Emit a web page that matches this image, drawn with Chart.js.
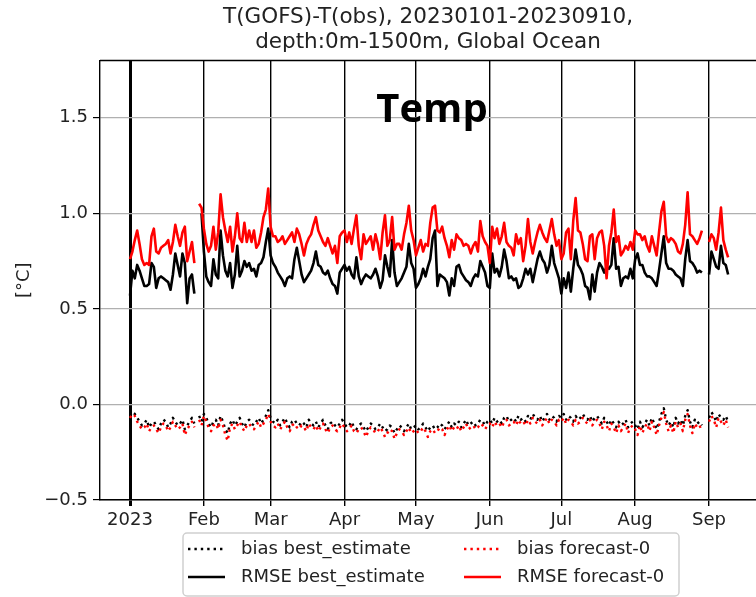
<!DOCTYPE html>
<html>
<head>
<meta charset="utf-8">
<script src="https://cdn.jsdelivr.net/npm/chart.js@4.4.1/dist/chart.umd.min.js"></script>
<style>
    body { margin: 0; background: #fff; }
    canvas { display: block; }
</style>
</head>
<body>
<canvas id="myChart" width="756" height="597"></canvas>
<script>
// daily values, day 0 = 2023-01-01 ... day 251 = 2023-09-09, null = no data
// one line per month
const rmseForecast = [
    0.76,0.80,0.86,0.91,0.84,0.76,0.73,0.74,0.73,0.88,0.92,0.80,0.79,0.82,0.83,0.84,0.86,0.79,0.85,0.94,0.88,0.83,0.90,0.93,0.75,0.80,0.85,0.74,null,1.05,1.03,
    0.92,0.84,0.80,0.83,0.93,0.81,0.90,1.10,0.98,0.91,0.85,0.93,0.80,0.88,1.00,0.87,0.85,0.95,0.85,0.91,0.85,0.91,0.82,0.84,0.90,0.98,1.02,1.13,
    0.93,0.88,0.88,0.85,0.86,0.88,0.84,0.86,0.88,0.90,0.85,0.92,0.89,0.84,0.78,0.84,0.87,0.89,0.94,0.98,0.91,0.88,0.85,0.83,0.87,0.83,0.79,0.83,0.74,0.88,0.90,
    0.91,0.85,0.90,0.84,0.92,0.99,0.83,0.76,0.89,0.84,0.86,0.88,0.81,0.89,0.84,0.76,0.90,0.99,0.83,0.86,0.98,0.81,0.84,0.84,0.81,0.89,0.95,1.04,0.91,0.86,
    0.78,0.82,0.86,0.80,0.84,0.83,0.95,1.03,1.04,0.91,0.90,0.93,0.87,0.83,0.77,0.86,0.81,0.89,0.87,0.86,0.83,0.84,0.83,0.79,0.83,0.85,0.80,0.96,0.88,0.85,0.83,
    0.74,0.93,0.87,0.92,0.84,0.88,0.95,0.85,0.83,0.82,0.78,0.89,0.84,0.87,0.75,0.83,0.97,0.85,0.79,0.85,0.90,0.94,0.90,0.87,0.85,0.91,0.97,0.89,0.83,0.86,
    0.76,0.79,0.90,0.92,0.76,0.96,1.08,0.91,0.90,0.84,0.76,0.75,0.88,0.89,0.76,0.87,0.90,0.91,0.83,0.66,0.83,0.90,1.02,0.85,0.88,0.78,0.80,0.83,0.81,0.85,0.81,
    0.91,0.89,0.89,0.86,0.88,0.83,0.80,0.88,0.83,0.78,0.90,1.01,1.06,0.88,0.85,0.87,0.86,0.84,0.80,0.79,0.84,0.94,1.11,0.89,0.88,0.86,0.84,0.87,0.91,null,null,
    0.85,0.89,0.87,0.81,0.90,1.03,0.86,0.81,0.77
];

const rmseBest = [
    0.57,0.70,0.66,0.73,0.70,0.66,0.62,0.62,0.63,0.74,0.72,0.61,0.66,0.67,0.66,0.65,0.64,0.60,0.68,0.79,0.73,0.67,0.79,0.74,0.53,0.66,0.68,0.58,null,null,1.00,
    0.80,0.67,0.64,0.62,0.76,0.68,0.66,0.91,0.78,0.70,0.67,0.74,0.61,0.68,0.83,0.67,0.70,0.75,0.72,0.74,0.70,0.71,0.67,0.73,0.74,0.77,0.85,0.92,
    0.78,0.74,0.72,0.69,0.67,0.65,0.62,0.66,0.67,0.66,0.76,0.82,0.75,0.68,0.64,0.66,0.68,0.70,0.74,0.80,0.73,0.72,0.69,0.68,0.70,0.66,0.63,0.62,0.58,0.69,0.71,
    0.73,0.70,0.72,0.68,0.66,0.77,0.67,0.63,0.66,0.68,0.67,0.66,0.68,0.71,0.67,0.61,0.65,0.78,0.72,0.67,0.86,0.69,0.62,0.64,0.66,0.69,0.72,0.84,0.74,0.71,
    0.61,0.63,0.66,0.71,0.67,0.72,0.76,0.87,0.91,0.62,0.68,0.67,0.66,0.64,0.57,0.66,0.62,0.72,0.73,0.69,0.67,0.65,0.64,0.62,0.66,0.68,0.67,0.75,0.72,0.69,0.62,
    0.61,0.79,0.69,0.71,0.67,0.72,0.81,0.75,0.66,0.67,0.65,0.66,0.61,0.62,0.66,0.71,0.68,0.71,0.64,0.70,0.76,0.80,0.76,0.74,0.69,0.73,0.83,0.74,0.70,0.66,
    0.58,0.66,0.61,0.69,0.59,0.71,0.81,0.73,0.71,0.68,0.62,0.61,0.55,0.68,0.59,0.69,0.74,0.72,0.69,0.72,0.71,0.73,0.87,0.71,0.72,0.62,0.66,0.67,0.66,0.71,0.66,
    0.76,0.79,0.73,0.73,0.69,0.67,0.67,0.66,0.64,0.62,0.70,0.79,0.88,0.74,0.71,0.71,0.70,0.68,0.67,0.66,0.62,0.76,0.86,0.75,0.74,0.72,0.69,0.70,0.69,null,null,
    0.68,0.80,0.76,0.72,0.71,0.83,0.74,0.73,0.68
];

const biasBest = [
    -0.06,-0.04,-0.05,-0.07,-0.09,-0.11,-0.10,-0.08,-0.12,-0.10,-0.09,-0.11,-0.13,-0.10,-0.08,-0.09,-0.12,-0.10,-0.07,-0.09,-0.11,-0.10,-0.08,-0.13,-0.11,-0.09,-0.07,-0.10,null,-0.06,-0.09,
    -0.05,-0.07,-0.10,-0.12,-0.09,-0.08,-0.11,-0.06,-0.09,-0.13,-0.15,-0.10,-0.08,-0.11,-0.09,-0.07,-0.10,-0.12,-0.09,-0.08,-0.10,-0.11,-0.09,-0.07,-0.10,-0.08,-0.06,-0.03,
    -0.07,-0.09,-0.10,-0.08,-0.11,-0.09,-0.07,-0.10,-0.12,-0.09,-0.08,-0.10,-0.11,-0.09,-0.10,-0.12,-0.08,-0.10,-0.11,-0.09,-0.12,-0.10,-0.08,-0.11,-0.13,-0.10,-0.09,-0.11,-0.12,-0.10,-0.08,
    -0.10,-0.12,-0.11,-0.09,-0.12,-0.13,-0.11,-0.10,-0.12,-0.14,-0.12,-0.10,-0.11,-0.13,-0.12,-0.10,-0.12,-0.14,-0.13,-0.11,-0.12,-0.15,-0.13,-0.11,-0.12,-0.14,-0.12,-0.10,-0.13,-0.12,
    -0.11,-0.13,-0.12,-0.10,-0.12,-0.14,-0.12,-0.11,-0.13,-0.12,-0.10,-0.11,-0.13,-0.11,-0.09,-0.12,-0.10,-0.11,-0.09,-0.12,-0.10,-0.08,-0.11,-0.10,-0.09,-0.11,-0.10,-0.08,-0.09,-0.11,-0.09,
    -0.08,-0.10,-0.07,-0.09,-0.08,-0.10,-0.07,-0.06,-0.09,-0.08,-0.07,-0.09,-0.06,-0.08,-0.07,-0.09,-0.06,-0.08,-0.05,-0.07,-0.08,-0.06,-0.09,-0.07,-0.05,-0.08,-0.06,-0.07,-0.09,-0.06,
    -0.07,-0.05,-0.08,-0.06,-0.07,-0.09,-0.06,-0.08,-0.07,-0.05,-0.07,-0.08,-0.06,-0.09,-0.07,-0.06,-0.08,-0.10,-0.07,-0.09,-0.11,-0.08,-0.10,-0.12,-0.09,-0.11,-0.10,-0.08,-0.12,-0.10,-0.09,
    -0.11,-0.13,-0.09,-0.12,-0.10,-0.08,-0.11,-0.07,-0.10,-0.13,-0.09,-0.05,-0.02,-0.08,-0.11,-0.09,-0.12,-0.07,-0.10,-0.08,-0.11,-0.06,-0.03,-0.09,-0.12,-0.08,-0.10,-0.09,-0.11,null,null,
    -0.07,-0.04,-0.06,-0.09,-0.05,-0.07,-0.08,-0.06,-0.09
];

const biasForecast = [
    -0.07,-0.05,-0.06,-0.09,-0.11,-0.13,-0.12,-0.10,-0.14,-0.12,-0.11,-0.13,-0.15,-0.12,-0.10,-0.11,-0.14,-0.12,-0.09,-0.11,-0.13,-0.12,-0.10,-0.16,-0.13,-0.11,-0.09,-0.12,null,-0.08,-0.11,
    -0.06,-0.09,-0.12,-0.14,-0.11,-0.10,-0.13,-0.08,-0.11,-0.16,-0.19,-0.12,-0.10,-0.13,-0.11,-0.09,-0.12,-0.14,-0.11,-0.10,-0.12,-0.13,-0.11,-0.09,-0.12,-0.10,-0.08,-0.05,
    -0.09,-0.11,-0.12,-0.10,-0.13,-0.11,-0.09,-0.12,-0.14,-0.11,-0.10,-0.12,-0.13,-0.11,-0.12,-0.14,-0.10,-0.12,-0.13,-0.11,-0.14,-0.12,-0.10,-0.13,-0.15,-0.12,-0.11,-0.13,-0.14,-0.12,-0.10,
    -0.12,-0.14,-0.13,-0.11,-0.14,-0.15,-0.13,-0.12,-0.14,-0.17,-0.14,-0.12,-0.13,-0.15,-0.14,-0.12,-0.14,-0.17,-0.15,-0.13,-0.14,-0.18,-0.15,-0.13,-0.14,-0.16,-0.14,-0.12,-0.15,-0.14,
    -0.13,-0.15,-0.14,-0.12,-0.14,-0.17,-0.14,-0.13,-0.15,-0.14,-0.12,-0.13,-0.16,-0.13,-0.11,-0.14,-0.12,-0.13,-0.11,-0.14,-0.12,-0.10,-0.13,-0.12,-0.11,-0.13,-0.12,-0.10,-0.11,-0.13,-0.11,
    -0.10,-0.12,-0.09,-0.11,-0.10,-0.12,-0.09,-0.08,-0.11,-0.10,-0.09,-0.11,-0.08,-0.10,-0.09,-0.11,-0.08,-0.10,-0.07,-0.09,-0.10,-0.08,-0.11,-0.09,-0.07,-0.10,-0.08,-0.09,-0.11,-0.08,
    -0.09,-0.07,-0.10,-0.08,-0.09,-0.11,-0.08,-0.10,-0.09,-0.07,-0.09,-0.10,-0.08,-0.11,-0.09,-0.08,-0.10,-0.13,-0.09,-0.11,-0.14,-0.10,-0.12,-0.15,-0.11,-0.14,-0.12,-0.10,-0.15,-0.12,-0.11,
    -0.13,-0.16,-0.11,-0.15,-0.12,-0.10,-0.14,-0.09,-0.12,-0.16,-0.11,-0.07,-0.04,-0.10,-0.14,-0.11,-0.15,-0.09,-0.12,-0.10,-0.14,-0.08,-0.05,-0.11,-0.15,-0.10,-0.12,-0.11,-0.14,null,null,
    -0.09,-0.06,-0.08,-0.12,-0.07,-0.09,-0.11,-0.08,-0.12
];

// x ticks on the first day of each month (day index)
const monthTicks = [0, 31, 59, 90, 120, 151, 181, 212, 243];
const monthLabels = ["2023", "Feb", "Mar", "Apr", "May", "Jun", "Jul", "Aug", "Sep"];
const yTicks = [-0.5, 0.0, 0.5, 1.0, 1.5];

const titleLines = ["T(GOFS)-T(obs), 20230101-20230910,", "depth:0m-1500m, Global Ocean"];

const textColor = "#222222";
const gridColor = "#b0b0b0";

function toPoints(values) {
    return values.map(function(v, i) { return {x: i, y: v}; });
}

// extra drawing: top spine, the "Temp" label and the 2 column legend
const decorPlugin = {
    id: "decor",
    afterDraw: function(chart) {
        const ctx = chart.ctx;
        const area = chart.chartArea;
        ctx.save();

        // top spine
        ctx.strokeStyle = "#000";
        ctx.lineWidth = 1.4;
        ctx.beginPath();
        ctx.moveTo(area.left, area.top);
        ctx.lineTo(area.right, area.top);
        ctx.stroke();

        // Temp
        ctx.fillStyle = "#000";
        ctx.font = "bold 40px 'Open Sans'";
        ctx.textAlign = "center";
        ctx.textBaseline = "alphabetic";
        ctx.fillText("Temp", 432, 122);

        // legend box
        ctx.fillStyle = "rgba(255,255,255,0.8)";
        ctx.strokeStyle = "#cfcfcf";
        ctx.lineWidth = 1.5;
        ctx.beginPath();
        ctx.roundRect(183, 533, 496, 63, 4);
        ctx.fill();
        ctx.stroke();

        const cols = [188, 464];
        const rows = [549, 577];
        ctx.font = "18px 'DejaVu Sans'";
        ctx.textAlign = "left";
        ctx.textBaseline = "middle";

        chart.data.datasets.forEach(function(ds, i) {
            const x = cols[Math.floor(i / 2)];
            const y = rows[i % 2];
            ctx.strokeStyle = ds.borderColor;
            ctx.lineWidth = ds.borderWidth;
            ctx.setLineDash(ds.borderDash || []);
            ctx.beginPath();
            ctx.moveTo(x, y);
            ctx.lineTo(x + 37, y);
            ctx.stroke();
            ctx.setLineDash([]);
            ctx.fillStyle = textColor;
            ctx.fillText(ds.label, x + 53, y);
        });

        ctx.restore();
    }
};

Chart.defaults.font.family = "'DejaVu Sans'";
Chart.defaults.color = textColor;

const ctx = document.getElementById("myChart");
const myChart = new Chart(ctx, {
    type: "line",
    data: {
        datasets: [
            {
                label: "bias best_estimate",
                data: toPoints(biasBest),
                borderColor: "#000000",
                borderWidth: 2.4,
                borderDash: [2.4, 4],
                order: 3
            },
            {
                label: "RMSE best_estimate",
                data: toPoints(rmseBest),
                borderColor: "#000000",
                borderWidth: 2.6,
                order: 2
            },
            {
                label: "bias forecast-0",
                data: toPoints(biasForecast),
                borderColor: "#ff0000",
                borderWidth: 2.4,
                borderDash: [2.4, 4],
                order: 1
            },
            {
                label: "RMSE forecast-0",
                data: toPoints(rmseForecast),
                borderColor: "#ff0000",
                borderWidth: 2.6,
                order: 0
            }
        ]
    },
    options: {
        responsive: false,
        animation: false,
        spanGaps: false,
        layout: { padding: 0 },
        elements: {
            point: { radius: 0 },
            line: { tension: 0, borderJoinStyle: "round", fill: false }
        },
        scales: {
            x: {
                type: "linear",
                min: -12.6,
                max: 262.7,
                afterBuildTicks: function(scale) {
                    scale.ticks = monthTicks.map(function(v) { return {value: v}; });
                },
                afterFit: function(scale) { scale.height = 97; },
                ticks: {
                    autoSkip: false,
                    maxRotation: 0,
                    padding: 4,
                    color: textColor,
                    font: { size: 18 },
                    callback: function(value) {
                        return monthLabels[monthTicks.indexOf(value)];
                    }
                },
                grid: {
                    color: "#000000",
                    lineWidth: function(c) { return c.index === 0 ? 3 : 1.4; },
                    tickLength: 6,
                    tickColor: "#000000"
                },
                border: { display: true, color: "#000000", width: 1.4 }
            },
            y: {
                min: -0.5,
                max: 1.8,
                afterBuildTicks: function(scale) {
                    scale.ticks = yTicks.map(function(v) { return {value: v}; });
                },
                afterFit: function(scale) { scale.width = 100; },
                ticks: {
                    padding: 5,
                    color: textColor,
                    font: { size: 18 },
                    callback: function(value) {
                        const s = Math.abs(value).toFixed(1);
                        return value < 0 ? "\u2212" + s : s;
                    }
                },
                grid: {
                    color: gridColor,
                    lineWidth: 1.2,
                    tickLength: 7,
                    tickColor: "#000000"
                },
                border: { display: true, color: "#000000", width: 1.4 },
                title: {
                    display: true,
                    text: "[\u00b0C]",
                    color: textColor,
                    font: { size: 18 },
                    padding: { top: 14, bottom: 0 }
                }
            }
        },
        plugins: {
            legend: { display: false },
            tooltip: { enabled: false },
            title: {
                display: true,
                fullSize: false,
                text: titleLines,
                color: textColor,
                font: { size: 21.5, weight: "normal", lineHeight: 1.15 },
                padding: { top: 5, bottom: 6 }
            }
        }
    },
    plugins: [decorPlugin]
});
</script>
</body>
</html>
